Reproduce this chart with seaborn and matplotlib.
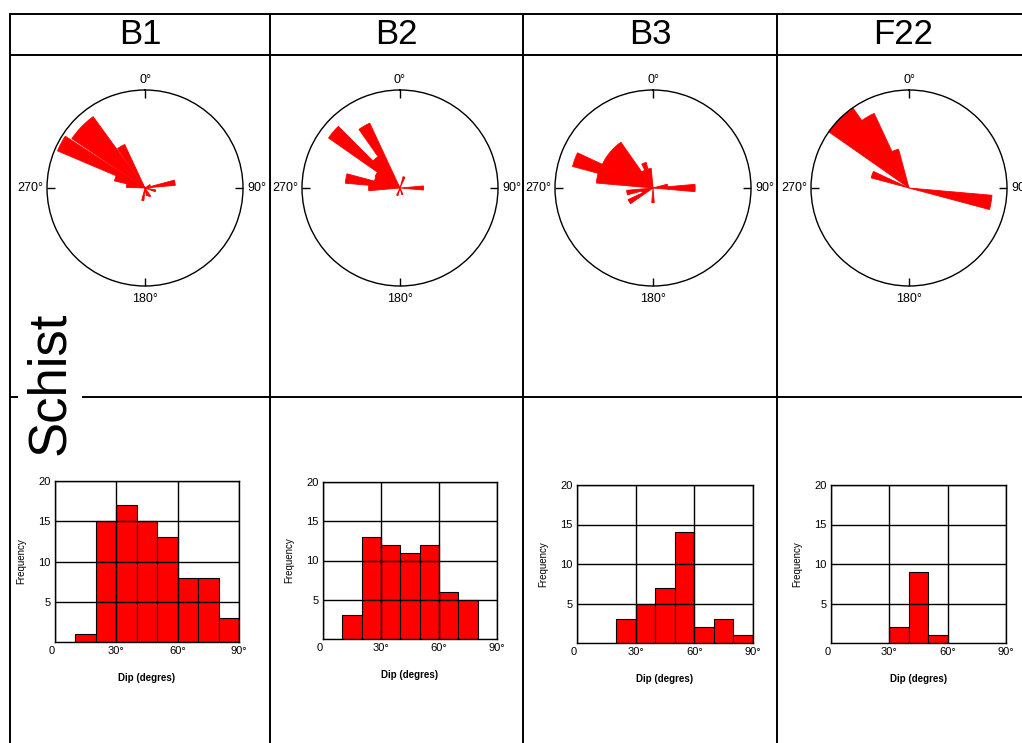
import numpy as np
import pandas as pd
import matplotlib
matplotlib.use('Agg')
import matplotlib.pyplot as plt
from matplotlib.lines import Line2D
import seaborn as sns

stations = ['B1', 'B2', 'B3', 'F22']
rock_type = 'Schist'

# rose diagrams: petal azimuth (bin centre, degrees) and relative petal length
b1_rose_az = [60, 80, 105, 150, 165, 190, 277, 288, 298, 309, 319, 330]
b1_rose_len = [0.06, 0.31, 0.11, 0.10, 0.08, 0.13, 0.19, 0.32, 0.97, 0.90, 0.90, 0.49]
b2_rose_az = [20, 90, 160, 200, 270, 280, 290, 300, 310, 320, 330]
b2_rose_len = [0.12, 0.24, 0.07, 0.08, 0.32, 0.56, 0.27, 0.28, 0.89, 0.39, 0.73]
b3_rose_az = [80, 90, 180, 240, 250, 260, 280, 290, 300, 310, 320, 330, 340, 350]
b3_rose_len = [0.15, 0.43, 0.15, 0.28, 0.12, 0.27, 0.58, 0.85, 0.57, 0.57, 0.57, 0.20, 0.27, 0.20]
f22_rose_az = [100, 290, 310, 320, 330, 340]
f22_rose_len = [0.85, 0.40, 1.00, 1.00, 0.84, 0.41]
compass = [0, 90, 180, 270]
compass_labels = ['0°', '90°', '180°', '270°']

# dip histograms: 10 degree bins
dip_centres = [5, 15, 25, 35, 45, 55, 65, 75, 85]
b1_counts = [0, 1, 15, 17, 15, 13, 8, 8, 3]
b2_counts = [0, 3, 13, 12, 11, 12, 6, 5, 0]
b3_counts = [0, 0, 3, 5, 7, 14, 2, 3, 1]
f22_counts = [0, 0, 0, 2, 9, 1, 0, 0, 0]

rose_az = [b1_rose_az, b2_rose_az, b3_rose_az, f22_rose_az]
rose_len = [b1_rose_len, b2_rose_len, b3_rose_len, f22_rose_len]
dip_counts = [b1_counts, b2_counts, b3_counts, f22_counts]

sns.set_style('white')
plt.rcParams['font.family'] = ['Liberation Sans', 'DejaVu Sans']
plt.rcParams['text.color'] = 'black'
plt.rcParams['axes.labelcolor'] = 'black'

W, H = 1022, 743
fig = plt.figure(figsize=(W / 100, H / 100), dpi=100)


def box(x0, y0, x1, y1):
    # pixel box (top-left origin) -> figure fraction rect
    return [x0 / W, 1 - y1 / H, (x1 - x0) / W, (y1 - y0) / H]


def hline(y, x0, x1):
    fig.add_artist(Line2D([x0 / W, x1 / W], [1 - y / H, 1 - y / H],
                          color='black', lw=1.4, transform=fig.transFigure))


def vline(x, y0, y1):
    fig.add_artist(Line2D([x / W, x / W], [1 - y0 / H, 1 - y1 / H],
                          color='black', lw=1.4, transform=fig.transFigure))


# table frame
col_edges = [10, 270, 523, 777, 1030]
hline(14, 10, W)
hline(55, 10, W)
hline(397, 10, W)
for x in col_edges[:-1]:
    vline(x, 14, H)

for i, name in enumerate(stations):
    xc = (col_edges[i] + col_edges[i + 1]) / 2
    fig.text(xc / W, 1 - 35 / H, name, ha='center', va='center', fontsize=25)

rose_centres = [145, 400, 653, 909]
hist_boxes = [(55, 481, 239, 642), (323, 482, 497, 639),
              (577, 485, 753, 643), (831, 485, 1006, 643)]
R = 98
# label offsets (points) and alignment for N, E, S, W
lab_off = [(0, 7), (3, 0), (0, -9), (-3, 0)]
lab_align = [('center', 'center'), ('left', 'center'), ('center', 'center'), ('right', 'center')]

for i in range(4):
    # rose diagram of strike directions
    cx, cy = rose_centres[i], 188
    ax = fig.add_axes(box(cx - R, cy - R, cx + R, cy + R), projection='polar')
    ax.set_theta_zero_location('N')
    ax.set_theta_direction(-1)
    ax.bar(np.deg2rad(rose_az[i]), rose_len[i], width=np.deg2rad(10),
           color='#ff0000', edgecolor='#ff0000', linewidth=0.6, align='center')
    ax.set_ylim(0, 1)
    ax.set_yticks([])
    ax.set_xticks(np.deg2rad(compass), [''] * 4)
    ax.grid(False)
    ax.tick_params(axis='x', bottom=False, top=True, direction='in', length=6,
                   width=1, colors='black')
    ax.spines['polar'].set_color('black')
    ax.spines['polar'].set_linewidth(1)
    ax.set_facecolor('none')
    for a, lab, off, al in zip(compass, compass_labels, lab_off, lab_align):
        ax.annotate(lab, xy=(np.deg2rad(a), 1), xytext=off, textcoords='offset points',
                    ha=al[0], va=al[1], fontsize=9, annotation_clip=False)

    # dip histogram
    df = pd.DataFrame({'dip': dip_centres, 'count': dip_counts[i]})
    x0, y0, x1, y1 = hist_boxes[i]
    hx = fig.add_axes(box(x0, y0, x1, y1))
    sns.histplot(data=df, x='dip', weights='count', bins=9, binrange=(0, 90),
                 color='#ff0000', alpha=1, edgecolor='black', linewidth=0.8, ax=hx)
    hx.set_xlim(0, 90)
    hx.set_ylim(0, 20)
    hx.set_xticks([0, 30, 60, 90], ['0', '30°', '60°', '90°'])
    hx.set_yticks([5, 10, 15, 20])
    hx.get_xticklabels()[0].set_ha('right')
    hx.tick_params(length=0, pad=3, labelsize=8, colors='black')
    hx.grid(True, color='black', lw=1)
    hx.set_axisbelow(False)
    for s in hx.spines.values():
        s.set_color('black')
        s.set_linewidth(1)
    hx.set_xlabel('Dip (degres)', fontsize=7, fontweight='bold', labelpad=12)
    hx.set_ylabel('Frequency', fontsize=7, labelpad=9)

fig.text(50 / W, 1 - 383 / H, rock_type, rotation=90, ha='center', va='center',
         fontsize=38, bbox=dict(facecolor='white', edgecolor='none', pad=5))

fig.savefig('out.png', dpi=100, facecolor='white')
